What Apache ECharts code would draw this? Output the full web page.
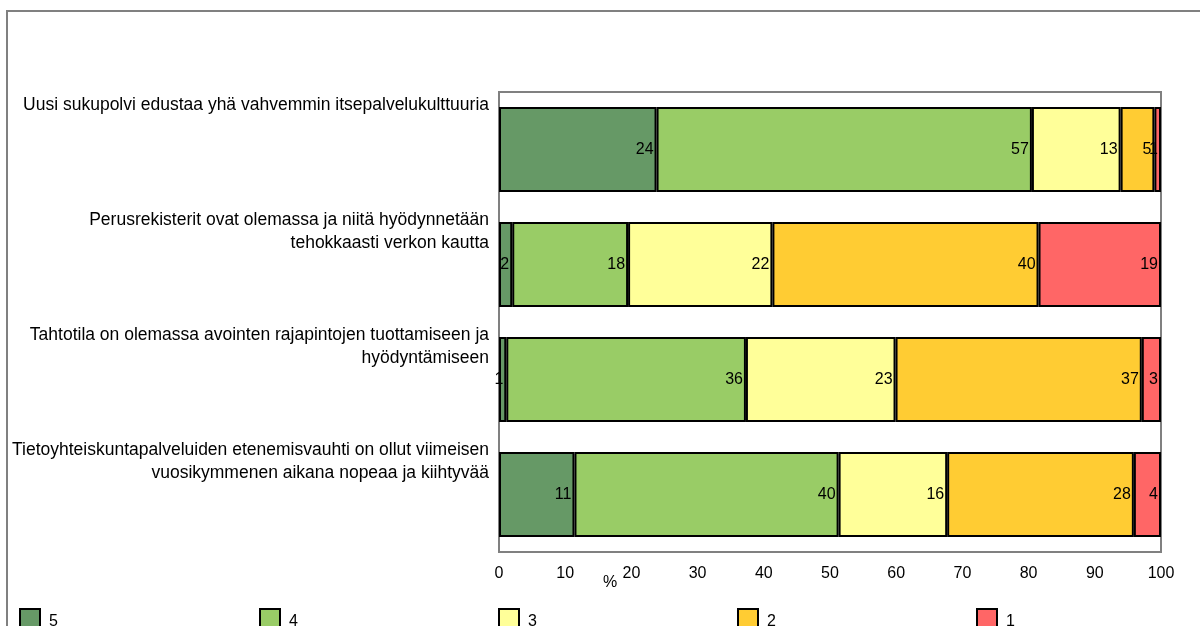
<!DOCTYPE html>
<html>
<head>
<meta charset="utf-8">
<script src="https://cdn.jsdelivr.net/npm/echarts@6/dist/echarts.min.js"></script>
<style>
html,body{margin:0;padding:0;background:#fff;}
#chart{width:1200px;height:626px;}
</style>
</head>
<body>
<div id="chart"></div>
<script>
const categories = [
  "Uusi sukupolvi edustaa yhä vahvemmin itsepalvelukulttuuria",
  "Perusrekisterit ovat olemassa ja niitä hyödynnetään\ntehokkaasti verkon kautta",
  "Tahtotila on olemassa avointen rajapintojen tuottamiseen ja\nhyödyntämiseen",
  "Tietoyhteiskuntapalveluiden etenemisvauhti on ollut viimeisen\nvuosikymmenen aikana nopeaa ja kiihtyvää"
];
const seriesNames = ["5", "4", "3", "2", "1"];
const v5 = [23.8, 2.0, 1.1, 11.4];
const v4 = [56.7, 17.5, 36.2, 39.9];
const v3 = [13.4, 21.8, 22.6, 16.4];
const v2 = [5.1, 40.2, 37.2, 28.2];
const v1 = [1.0, 18.5, 2.9, 4.1];
const xTicks = [0, 10, 20, 30, 40, 50, 60, 70, 80, 90, 100];

const values = [v5, v4, v3, v2, v1];
const colors = ["#669966", "#99CC66", "#FFFF99", "#FFCC33", "#FF6666"];
const legendLefts = [14, 254, 493, 732, 971];
const FONT = "'Liberation Sans', Arial, sans-serif";

const chart = echarts.init(document.getElementById('chart'));
const option = {
  animation: false,
  textStyle: { fontFamily: FONT },
  graphic: [{
    type: 'rect', silent: true,
    shape: { x: 7, y: 11, width: 1210, height: 640 },
    style: { fill: 'none', stroke: '#808080', lineWidth: 2 }
  }],
  grid: {
    left: 499, right: 39, top: 92, bottom: 74,
    show: true, borderColor: '#808080', borderWidth: 2, backgroundColor: 'transparent'
  },
  legend: seriesNames.map((n, i) => ({
    data: [n], left: legendLefts[i], top: 603,
    icon: 'rect', itemWidth: 20, itemHeight: 26,
    textStyle: { fontSize: 16, color: '#000', fontFamily: FONT, padding: [0, 0, 0, 4] },
    selectedMode: false
  })),
  xAxis: {
    type: 'value', min: 0, max: 100, interval: 10,
    name: '%', nameLocation: 'middle', nameGap: 23, nameMoveOverlap: false,
    nameTextStyle: { fontSize: 16, color: '#000', fontFamily: FONT, padding: [0, 440, 0, 0] },
    axisLine: { show: true, lineStyle: { color: '#808080', width: 2 } },
    axisTick: { show: false },
    splitLine: { show: false },
    axisLabel: {
      fontSize: 16, color: '#000', margin: 14, fontFamily: FONT,
      formatter: v => (xTicks.indexOf(v) >= 0 ? String(v) : '')
    }
  },
  yAxis: [{
    type: 'category', data: categories, inverse: true, show: false
  }, {
    type: 'category', data: categories.concat(['']), inverse: true, boundaryGap: false,
    position: 'left',
    axisLine: { show: false }, axisTick: { show: false }, splitLine: { show: false },
    axisLabel: {
      interval: 0, fontSize: 17.5, color: '#000', fontFamily: FONT,
      verticalAlign: 'top', align: 'right', lineHeight: 23, margin: 10,
      padding: [2, 0, 0, 0]
    }
  }],
  series: seriesNames.map((n, i) => ({
    name: n, type: 'bar', stack: 'total', yAxisIndex: 0,
    barWidth: '74%',
    data: values[i],
    itemStyle: { color: colors[i], borderColor: '#000', borderWidth: 2 },
    label: {
      show: true, position: 'insideRight', distance: 3,
      fontSize: 16, color: '#000', fontFamily: FONT,
      formatter: p => String(Math.round(p.value))
    }
  }))
};
chart.setOption(option);
</script>
</body>
</html>
